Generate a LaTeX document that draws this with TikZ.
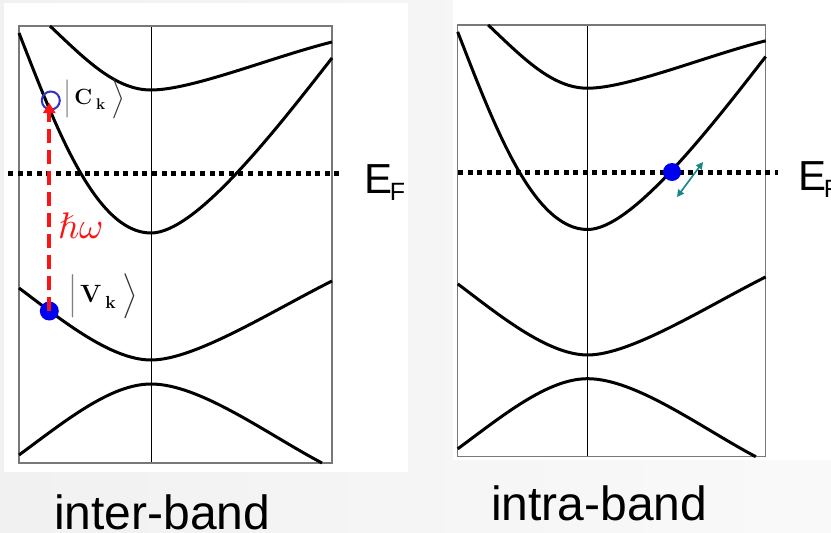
\documentclass[tikz,border=0pt]{standalone}
\usepackage{amsmath}
\usepackage{fontspec}
\usepackage{unicode-math}
\setmathfont{Latin Modern Math}
\newfontfamily\arialf{Liberation Sans}
\usetikzlibrary{arrows.meta}
\definecolor{bggray}{RGB}{241,241,241}
\definecolor{photonred}{RGB}{250,20,20}
\definecolor{dotblue}{RGB}{0,0,240}
\definecolor{ringblue}{RGB}{50,50,200}
\definecolor{tealarr}{RGB}{20,135,135}
\definecolor{boxgray}{RGB}{120,120,120}
\newcommand{\bandpanel}{%
  \draw[axisline] (151,26) -- (151,463);
  \draw[boxline] (19,26) rectangle (332,463);
  \draw[band] (50,26) .. controls (85,59) and (115,90) .. (151,90)
              .. controls (192,90) and (272,57) .. (332,42);
  \draw[band] (19,33) .. controls (55,125) and (95,233) .. (151,233)
              .. controls (195,233) and (272,135) .. (332,58);
  \draw[band] (19,288) .. controls (59,318) and (110,360) .. (151,360)
              .. controls (195,360) and (272,311) .. (332,281);
  \draw[band] (19,455) .. controls (64,422) and (110,384) .. (151,384)
              .. controls (200,384) and (267,434) .. (322,463);
}
\newcommand{\myket}[1]{{\color{gray}$\Big|$}\kern4pt$\mathbf{#1}_{\kern4pt\mathbf{k}}$\kern7pt{\color{black!80}$\Big\rangle$}}
\begin{document}
\begin{tikzpicture}[x=1pt,y=-1pt,
  axisline/.style={draw=black,line width=0.9pt},
  boxline/.style={draw=boxgray,line width=1.1pt},
  band/.style={draw=black,line width=3pt},
  fermi/.style={draw=black,line width=5pt,dash pattern=on 5pt off 4.6pt},
  dotb/.style={circle,fill=dotblue,inner sep=0pt,minimum size=19pt},
  ring/.style={circle,draw=ringblue,line width=2pt,inner sep=0pt,minimum size=18pt},
  photon/.style={draw=photonred,line width=4pt,dash pattern=on 14pt off 7pt,
     -{Triangle[width=12pt,length=10pt]}},
  ketlab/.style={inner sep=0pt,anchor=west},
  eflab/.style={inner sep=0pt,anchor=base west,font=\arialf\fontsize{42}{46}\selectfont},
  caption/.style={inner sep=0pt,anchor=base west,font=\arialf\fontsize{48}{52}\selectfont},
  tealstyle/.style={draw=tealarr,line width=1.6pt,{Triangle[width=7pt,length=7pt]}-{Triangle[width=7pt,length=7pt]}}
]
\useasboundingbox (0,0) rectangle (831,533);
\shade[left color=bggray!100!black!100, right color=white!60!bggray] (0,0) rectangle (831,533);
\fill[white] (4,3) rectangle (408,472);
\fill[white] (453,-1) rectangle (832,460);
% left panel
\begin{scope}
  \bandpanel
\end{scope}
\draw[fermi] (8,173) -- (343,173);
\node[ring] (cring) at (50.8,100.5) {};
\node[dotb] (vdot) at (49.3,311) {};
\coordinate (tipc) at (49.3,103);
\draw[photon] (vdot.center) -- (tipc);
\node[inner sep=0pt,anchor=base west,text=photonred,font=\fontsize{37}{40}\selectfont] (hw) at (58,238) {$\hbar\omega$};
\node[ketlab,font=\fontsize{22}{28}\selectfont] (cket) at (64,99) {\myket{C}};
\node[ketlab,font=\fontsize{25}{26}\selectfont] (vket) at (69,296) {\myket{V}};
\node[eflab] (efL) at (364.7,193) {E\kern-3pt\raisebox{-7pt}{\fontsize{25}{25}\selectfont F}};
% right panel
\begin{scope}[shift={(439,-0.7)},xscale=0.984,yscale=0.988]
  \bandpanel
\end{scope}
\draw[fermi] (458,172) -- (778,172);
\node[dotb,minimum size=18pt] (edot) at (672,172) {};
\coordinate (ta) at (677,197);
\coordinate (tb) at (703,162);
\draw[tealstyle] (ta) -- (tb);
\node[eflab] (efR) at (798.7,190) {E\kern-3pt\raisebox{-7pt}{\fontsize{25}{25}\selectfont F}};
% captions
\node[caption] (capL) at (54,529) {inter-band};
\node[caption] (capR) at (491,520) {intra-band};
\end{tikzpicture}
\end{document}
